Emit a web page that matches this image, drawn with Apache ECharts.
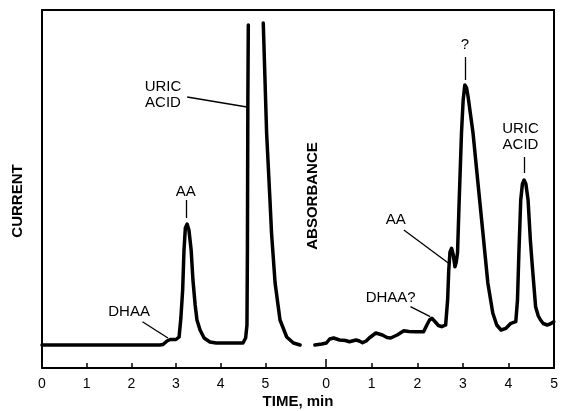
<!DOCTYPE html>
<html><head><meta charset="utf-8">
<script src="https://cdn.jsdelivr.net/npm/echarts@6/dist/echarts.min.js"></script>
<style>html,body{margin:0;padding:0;background:#fff}#c{width:561px;height:411px}</style>
</head><body><div id="c"></div>
<script>
// Panel A: electrochemical detection (current, arbitrary units)
const timeA = [0, 1.75, 2.64, 2.71, 2.80, 2.87, 3.00, 3.07, 3.11, 3.15, 3.18, 3.21, 3.25, 3.29, 3.34, 3.38, 3.43, 3.47, 3.54, 3.63, 3.76, 3.90, 4.50, 4.56, 4.59, 4.60, 4.61, 4.62, 4.80, 4.955, 5.03, 5.105, 5.14, 5.22, 5.33, 5.48, 5.63, 5.78];
const currentA = [23, 23, 23, 23.5, 27, 28.5, 28.5, 31, 50, 78, 118, 140, 144, 138, 118, 88, 63, 48, 38, 30, 26, 25, 25, 30, 43, 118, 268, 343, null, 345, 235, 168, 135, 85, 48, 31, 25, 23];
// Panel B: UV absorbance (arbitrary units)
const timeB = [-0.246, -0.095, 0.007, 0.079, 0.165, 0.295, 0.425, 0.512, 0.657, 0.729, 0.80, 0.88, 0.946, 1.091, 1.163, 1.234, 1.336, 1.416, 1.488, 1.559, 1.704, 1.813, 1.965, 2.138, 2.21, 2.268, 2.318, 2.376, 2.463, 2.535, 2.622, 2.665, 2.69, 2.717, 2.752, 2.789, 2.826, 2.854, 2.882, 2.919, 2.969, 3.006, 3.042, 3.081, 3.114, 3.222, 3.33, 3.439, 3.547, 3.655, 3.742, 3.836, 3.944, 4.052, 4.16, 4.197, 4.23, 4.268, 4.305, 4.342, 4.381, 4.429, 4.479, 4.523, 4.594, 4.653, 4.703, 4.761, 4.848, 4.913, 4.993];
const absorbanceB = [23, 24, 25, 29, 30, 28, 27.5, 26.3, 28, 27, 25.3, 27, 30, 35, 34, 33, 30.5, 30, 31.5, 33, 37.3, 36.5, 36.3, 36.3, 43, 48, 49.7, 47, 42.5, 41.3, 43, 68, 98, 116, 119.7, 113, 101.3, 106, 115, 168, 235, 268, 283, 280, 271.3, 235, 185, 135, 85, 55, 43, 38, 39.7, 44.7, 46.3, 68, 118, 168, 184, 188, 184, 168, 128, 101.3, 61.3, 52, 48, 44.5, 43, 44, 46.3];
const tickLabelsA = [0, 1, 2, 3, 4, 5];
const tickMarksA = [1, 2, 3, 4, 5];
const tickLabelsB = [0, 1, 2, 3, 4, 5];
const tickMarksB = [1, 2, 3, 4];

const FONT = '"Liberation Sans", Arial, Helvetica, sans-serif';
const pairs = (xs, ys) => xs.map((x, i) => [x, ys[i] === null ? null : ys[i]]);

function labelPt(t, v, text, extra) {
  return Object.assign({ coord: [t, v], label: { formatter: text } }, extra || {});
}
function leader(a, b, c, d) { return [{ coord: [a, b] }, { coord: [c, d] }]; }

const markPointBase = {
  symbol: 'rect', symbolSize: 1, silent: true,
  itemStyle: { color: 'rgba(0,0,0,0)' },
  label: { show: true, position: 'inside', color: '#000', fontSize: 15, fontFamily: FONT, lineHeight: 16 }
};
const markLineBase = {
  symbol: ['none', 'none'], silent: true,
  lineStyle: { color: '#000', width: 1.3, type: 'solid' },
  label: { show: false }, emphasis: { disabled: true }
};

const axisLine = { show: true, onZero: false, lineStyle: { color: '#000', width: 2 } };
const labelStyle = { color: '#000', fontSize: 14, fontFamily: FONT, margin: 9 };

const option = {
  animation: false,
  backgroundColor: '#fff',
  grid: [
    { left: 42, top: 10, width: 259, bottom: 43 },
    { left: 301, top: 10, right: 4, bottom: 43 }
  ],
  xAxis: [
    { gridIndex: 0, type: 'value', min: 0, max: 5.8, position: 'bottom', axisLine,
      axisTick: { show: true, inside: true, length: 5, customValues: tickMarksA, lineStyle: { color: '#000', width: 1.5 } },
      axisLabel: Object.assign({ customValues: tickLabelsA }, labelStyle), splitLine: { show: false } },
    { gridIndex: 1, type: 'value', min: -0.55, max: 5, position: 'bottom', axisLine,
      axisTick: { show: true, inside: true, length: 5, customValues: tickMarksB, lineStyle: { color: '#000', width: 1.5 } },
      axisLabel: Object.assign({ customValues: tickLabelsB }, labelStyle), splitLine: { show: false } },
    { gridIndex: 0, type: 'value', min: 0, max: 5.8, position: 'top', axisLine,
      axisTick: { show: false }, axisLabel: { show: false }, splitLine: { show: false } },
    { gridIndex: 1, type: 'value', min: -0.55, max: 5, position: 'top', axisLine,
      axisTick: { show: false }, axisLabel: { show: false }, splitLine: { show: false } },
    { gridIndex: 1, type: 'value', min: -0.55, max: 5, position: 'bottom', axisLine: { show: false, onZero: false },
      axisTick: { show: true, inside: true, length: 9, customValues: [0], lineStyle: { color: '#000', width: 1.5 } },
      axisLabel: { show: false }, splitLine: { show: false } }
  ],
  yAxis: [
    { gridIndex: 0, type: 'value', min: 0, max: 358, position: 'left', axisLine,
      axisTick: { show: false }, axisLabel: { show: false }, splitLine: { show: false } },
    { gridIndex: 1, type: 'value', min: 0, max: 358, position: 'right', axisLine,
      axisTick: { show: false }, axisLabel: { show: false }, splitLine: { show: false } }
  ],
  graphic: [
    { type: 'text', x: 18, y: 201, rotation: Math.PI / 2,
      style: { text: 'CURRENT', font: 'bold 15px ' + FONT, align: 'center', verticalAlign: 'middle', fill: '#000' } },
    { type: 'text', x: 313, y: 196, rotation: Math.PI / 2,
      style: { text: 'ABSORBANCE', font: 'bold 15px ' + FONT, align: 'center', verticalAlign: 'middle', fill: '#000' } },
    { type: 'text', x: 298, y: 402,
      style: { text: 'TIME, min', font: 'bold 15px ' + FONT, align: 'center', verticalAlign: 'middle', fill: '#000' } }
  ],
  series: [
    {
      type: 'line', xAxisIndex: 0, yAxisIndex: 0, data: pairs(timeA, currentA),
      symbol: 'none', connectNulls: false, smooth: false,
      lineStyle: { color: '#000', width: 3.5, join: 'round', cap: 'round' },
      markPoint: Object.assign({}, markPointBase, { data: [
        labelPt(2.71, 273.5, 'URIC\nACID'),
        labelPt(0.58, 186, 'A', { label: { fontWeight: 'bold' } }),
        labelPt(3.22, 176, 'AA'),
        labelPt(1.95, 56, 'DHAA')
      ] }),
      markLine: Object.assign({}, markLineBase, { data: [
        leader(3.25, 271, 4.59, 261),
        leader(3.22, 168, 3.22, 150),
        leader(2.25, 46.3, 2.82, 30)
      ] })
    },
    {
      type: 'line', xAxisIndex: 1, yAxisIndex: 1, data: pairs(timeB, absorbanceB),
      symbol: 'none', smooth: false,
      lineStyle: { color: '#000', width: 3.5, join: 'round', cap: 'round' },
      markPoint: Object.assign({}, markPointBase, { data: [
        labelPt(0.707, 193, 'B', { label: { fontWeight: 'bold' } }),
        labelPt(3.042, 323, '?'),
        labelPt(4.263, 231, 'URIC\nACID'),
        labelPt(1.525, 148, 'AA'),
        labelPt(1.416, 70, 'DHAA?')
      ] }),
      markLine: Object.assign({}, markLineBase, { data: [
        leader(3.042, 311, 3.042, 288),
        leader(4.343, 211, 4.343, 195),
        leader(1.705, 138, 2.68, 105),
        leader(1.85, 61.3, 2.283, 51.3)
      ] })
    }
  ]
};
const chart = echarts.init(document.getElementById('c'), null, { renderer: 'canvas' });
chart.setOption(option);
</script>
</body></html>
